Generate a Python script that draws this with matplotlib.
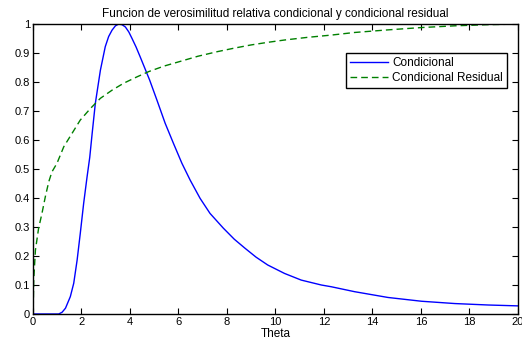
import matplotlib
matplotlib.use("Agg")
import matplotlib.pyplot as plt

# values
theta_cond = [0.0, 0.5, 1.06, 1.20, 1.34, 1.54, 1.68, 1.82, 1.95, 2.09, 2.23,
              2.34, 2.44, 2.57, 2.78, 2.98, 3.12, 3.26, 3.40, 3.53, 3.67,
              3.81, 3.95, 4.08, 4.25, 4.42, 4.61, 4.81, 5.11, 5.45, 5.79,
              6.14, 6.48, 6.89, 7.30, 7.85, 8.30, 8.74, 9.20, 9.68, 10.37,
              11.06, 11.89, 12.30, 13.26, 14.64, 16.02, 17.40, 18.78, 20.0]
cond = [0.0, 0.0, 0.0, 0.006, 0.020, 0.060, 0.106, 0.186, 0.278, 0.382, 0.473,
        0.540, 0.623, 0.726, 0.841, 0.922, 0.957, 0.979, 0.994, 1.0, 0.998,
        0.99, 0.973, 0.951, 0.921, 0.887, 0.848, 0.807, 0.738, 0.658, 0.589,
        0.520, 0.462, 0.399, 0.347, 0.296, 0.258, 0.227, 0.196, 0.169, 0.140,
        0.117, 0.100, 0.094, 0.077, 0.057, 0.044, 0.036, 0.031, 0.028]

theta_res = [0.01, 0.03, 0.10, 0.23, 0.37, 0.51, 0.65, 0.78, 0.99, 1.27,
             1.61, 1.95, 2.37, 2.78, 3.26, 3.74, 4.29, 4.77, 5.40, 6.02,
             6.80, 7.61, 8.30, 8.99, 9.68, 10.37, 11.30, 12.30, 13.26,
             14.64, 16.02, 17.40, 18.78, 20.0]
res = [0.02, 0.117, 0.22, 0.295, 0.347, 0.405, 0.456, 0.49, 0.52, 0.577,
       0.623, 0.669, 0.709, 0.744, 0.772, 0.796, 0.818, 0.836, 0.855, 0.870,
       0.889, 0.905, 0.917, 0.928, 0.937, 0.945, 0.954, 0.962, 0.971,
       0.980, 0.988, 0.994, 0.998, 1.0]

xticks = list(range(0, 21, 2))
yticks = [i / 10 for i in range(11)]
ytick_labels = ["0", "0.1", "0.2", "0.3", "0.4", "0.5", "0.6", "0.7", "0.8", "0.9", "1"]

plt.rcParams["font.family"] = ["Liberation Sans", "DejaVu Sans"]

fig = plt.figure(figsize=(5.22, 3.54), dpi=100)
ax = fig.add_axes([0.0632, 0.113, 0.9291, 0.819])

ax.plot(theta_cond, cond, color=(0, 0, 1), lw=1.0, label="Condicional")
ax.plot(theta_res, res, color=(0, 0.5, 0), lw=1.0, dashes=(4.8, 2.9),
        label="Condicional Residual")

ax.set_xlim(0, 20)
ax.set_ylim(0, 1)
ax.set_xticks(xticks)
ax.set_xticklabels([str(t) for t in xticks])
ax.set_yticks(yticks)
ax.set_yticklabels(ytick_labels)
ax.tick_params(direction="in", length=4, width=0.8, top=True, right=True,
               labelsize=8, pad=2, colors="black")
for s in ax.spines.values():
    s.set_linewidth(1.0)
    s.set_color("black")

ax.set_title("Funcion de verosimilitud relativa condicional y condicional residual",
             fontsize=8.5, pad=5)
ax.set_xlabel("Theta", fontsize=8.5, labelpad=1)

leg = ax.legend(loc="upper right", bbox_to_anchor=(0.978, 0.901),
                borderaxespad=0, fontsize=8.5, fancybox=False, framealpha=1,
                edgecolor="black", handlelength=3.2, handletextpad=0.4,
                labelspacing=0.25, borderpad=0.35)
leg.get_frame().set_linewidth(1.0)

fig.savefig("out.png", dpi=100)
